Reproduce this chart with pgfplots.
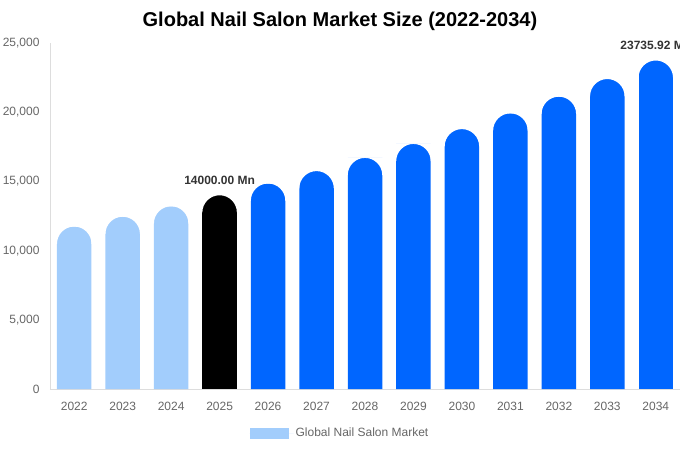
\documentclass[border=0pt]{standalone}
\usepackage{fontspec}
\setmainfont{Liberation Sans}
\usepackage{pgfplots}
\pgfplotsset{compat=1.18}

\definecolor{lightbar}{HTML}{A2CDFC}
\definecolor{mainblue}{HTML}{0066FF}
\definecolor{axisgray}{HTML}{DDDDDD}
\definecolor{ticktext}{HTML}{666666}
\definecolor{labeltext}{HTML}{333333}

% white corner masks that round off the top of each bar (half width 17.25bp)
\pgfdeclareplotmark{rtop}{%
  \pgfpathmoveto{\pgfqpoint{-18.5bp}{0.6bp}}%
  \pgfpathlineto{\pgfqpoint{-18.5bp}{-17.25bp}}%
  \pgfpathlineto{\pgfqpoint{-17.25bp}{-17.25bp}}%
  \pgfpatharc{180}{90}{17.25bp}%
  \pgfpathlineto{\pgfqpoint{0bp}{0.6bp}}%
  \pgfpathclose
  \pgfpathmoveto{\pgfqpoint{18.5bp}{0.6bp}}%
  \pgfpathlineto{\pgfqpoint{18.5bp}{-17.25bp}}%
  \pgfpathlineto{\pgfqpoint{17.25bp}{-17.25bp}}%
  \pgfpatharc{0}{90}{17.25bp}%
  \pgfpathlineto{\pgfqpoint{0bp}{0.6bp}}%
  \pgfpathclose
  \pgfusepathqfill
}

\begin{document}
\begin{tikzpicture}
\begin{axis}[
  width=630bp, height=346bp,
  scale only axis,
  clip=false,
  xmin=-0.5, xmax=12.5,
  ymin=0, ymax=25000,
  axis x line=bottom, axis y line=left,
  axis line style={-, draw=axisgray, line width=0.8bp},
  major tick length=0pt,
  xtick={0,...,12},
  xticklabels={2022,2023,2024,2025,2026,2027,2028,2029,2030,2031,2032,2033,2034},
  ytick={0,5000,10000,15000,20000,25000},
  scaled y ticks=false,
  /pgf/number format/.cd, fixed, 1000 sep={,}, assume math mode=true,
  /pgfplots/.cd,
  ticklabel style={font=\fontsize{12bp}{14bp}\selectfont, text=ticktext},
  xticklabel style={yshift=-10bp},
  yticklabel style={xshift=-7bp},
  title={Global Nail Salon Market Size (2022-2034)},
  title style={at={(0.4603,1)}, anchor=center, yshift=15.5bp,
    font=\fontsize{20bp}{24bp}\selectfont\bfseries},
  legend style={at={(0.4603,0)}, anchor=center, yshift=-44bp, draw=none,
    font=\fontsize{12bp}{14bp}\selectfont, text=ticktext,
    /tikz/every even column/.append style={column sep=0bp}},
  every node near coord/.append style={font=\fontsize{12bp}{14bp}\selectfont\bfseries,
    text=labeltext, anchor=south, yshift=7bp},
]

\addplot[ybar, bar width=34.5bp, bar shift=0pt, fill=lightbar, draw=none,
  mark=rtop, mark options={fill=white, draw=none},
  legend image code/.code={\fill[lightbar] (0bp,-5.5bp) rectangle (39bp,5.5bp);
    \path (0bp,0bp) -- (44bp,0bp);}]
  coordinates {(0,11738)(1,12448)(2,13201)};
\addlegendentry{Global Nail Salon Market}

\addplot[ybar, bar width=34.5bp, bar shift=0pt, fill=mainblue, draw=none,
  mark=rtop, mark options={fill=white, draw=none}, forget plot]
  coordinates {(4,14847)(5,15745)(6,16698)(7,17708)(8,18779)(9,19915)(10,21120)(11,22397)};

\addplot[ybar, bar width=34.5bp, bar shift=0pt, fill=black, draw=none,
  mark=rtop, mark options={fill=white, draw=none}, forget plot,
  nodes near coords={14000.00 Mn}]
  coordinates {(3,14000)};

\addplot[ybar, bar width=34.5bp, bar shift=0pt, fill=mainblue, draw=none,
  mark=rtop, mark options={fill=white, draw=none}, forget plot,
  nodes near coords={23735.92 Mn}]
  coordinates {(12,23736)};

\end{axis}
\pgfresetboundingbox
\useasboundingbox (-50bp,-61bp) rectangle (630bp,389bp);
\end{tikzpicture}
\end{document}
